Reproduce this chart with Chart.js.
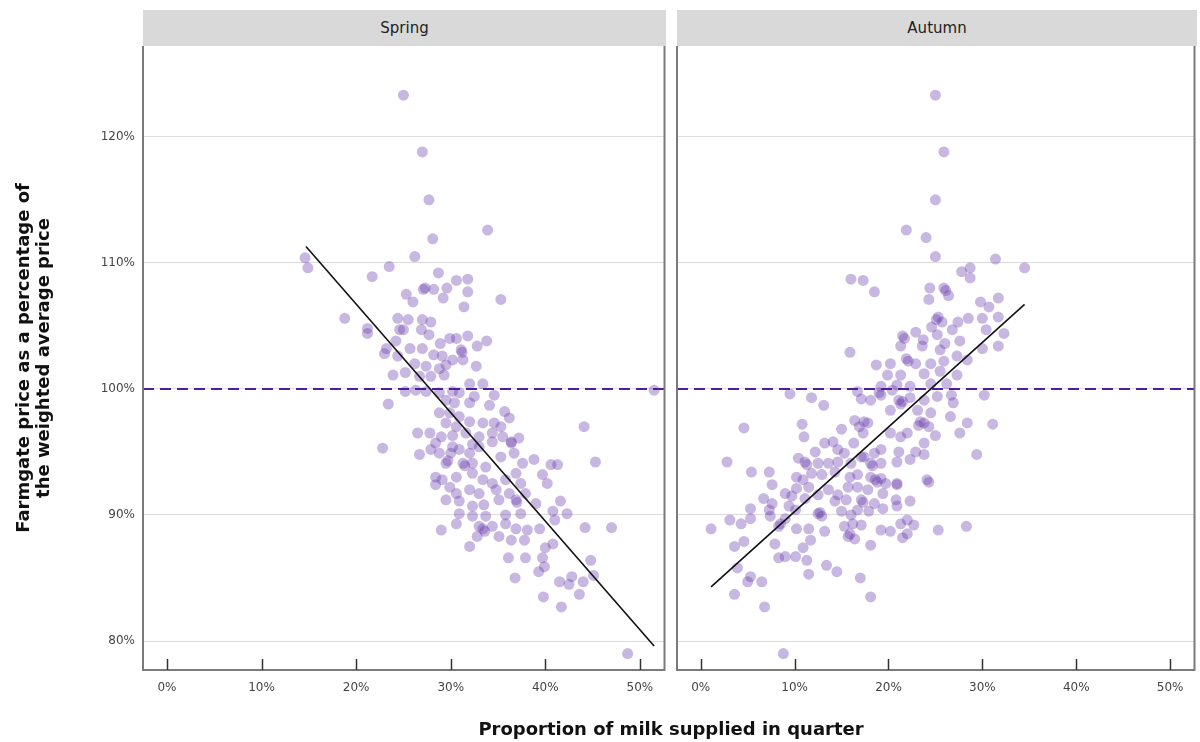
<!DOCTYPE html>
<html>
<head>
<meta charset="utf-8">
<script src="https://cdn.jsdelivr.net/npm/chart.js@4"></script>
<style>
  body { margin: 0; background: #fff; font-family: "DejaVu Sans", sans-serif; }
  #page { position: relative; width: 1200px; height: 742px; overflow: hidden; }
  .wrap { position: absolute; top: 0; height: 742px; }
  .strip { position: absolute; top: 10px; height: 36px; background: #d9d9d9; color: #222;
           font-size: 15px; line-height: 36px; text-align: center; z-index: 2; }
  #ytitle { position: absolute; left: 33px; top: 358px; width: 460px; margin-left: -230px;
            transform: translate(0, -50%) rotate(-90deg); text-align: center;
            font-weight: bold; font-size: 18px; line-height: 20px; color: #111; }
  #xtitle { position: absolute; left: 0; width: 1342px; top: 718px; text-align: center;
            font-weight: bold; font-size: 18px; color: #111; }
</style>
</head>
<body>
<div id="page">
  <div class="wrap" style="left:0;width:670px"><canvas id="spring" width="670" height="742"></canvas></div>
  <div class="wrap" style="left:670px;width:530px"><canvas id="autumn" width="530" height="742"></canvas></div>
  <div class="strip" style="left:143px;width:523px">Spring</div>
  <div class="strip" style="left:677px;width:520px">Autumn</div>
  <div id="ytitle">Farmgate price as a percentage of<br>the weighted average price</div>
  <div id="xtitle">Proportion of milk supplied in quarter</div>
</div>
<script>
// Ticks (percent)
const xTicks = [0, 10, 20, 30, 40, 50];
const yTicks = [80, 90, 100, 110, 120];
const refLevel = 100;

// Spring: share of milk supplied (%) vs farmgate price index (%)
const springX = [25.0, 27.0, 27.7, 28.1, 33.9, 26.2, 14.6, 14.9, 23.5, 21.7, 28.7, 30.6, 31.8, 27.1, 27.3, 28.2, 29.6, 31.8, 25.3, 26.0,
  29.2, 31.4, 35.3, 18.8, 21.2, 21.2, 24.4, 25.5, 27.0, 27.9, 24.6, 25.0, 26.9, 27.7, 29.9, 30.6, 31.8, 33.8, 32.8, 28.9,
  31.1, 31.2, 23.2, 23.0, 24.2, 25.7, 27.0, 28.2, 29.1, 30.2, 31.3, 24.4, 26.2, 27.4, 28.8, 29.5, 32.7, 23.9, 25.2, 26.7,
  27.9, 29.3, 32.0, 33.4, 25.2, 26.3, 27.4, 28.8, 30.2, 30.9, 32.5, 34.6, 23.4, 29.5, 30.4, 32.0, 34.1, 35.7, 28.8, 29.9,
  30.9, 36.2, 29.5, 30.6, 32.0, 33.4, 34.6, 35.3, 26.5, 27.8, 29.0, 30.2, 31.6, 33.0, 34.4, 37.2, 36.4, 35.5, 22.8, 28.4,
  30.2, 32.3, 26.7, 27.9, 28.8, 30.0, 30.9, 32.0, 33.0, 34.4, 36.4, 29.5, 29.7, 31.3, 31.5, 32.3, 33.7, 35.3, 36.7, 37.6,
  38.8, 40.6, 41.3, 28.4, 29.1, 30.6, 32.3, 33.4, 34.4, 35.8, 36.9, 39.7, 40.2, 28.4, 29.9, 30.6, 32.0, 33.0, 34.8, 36.2,
  37.4, 37.9, 29.5, 30.9, 32.3, 33.5, 35.1, 36.9, 37.0, 39.0, 41.6, 40.8, 42.3, 30.9, 32.3, 33.7, 35.8, 37.4, 30.6, 33.0,
  34.4, 35.8, 36.9, 38.1, 39.4, 41.0, 29.0, 33.4, 33.6, 32.8, 35.1, 36.4, 37.8, 32.0, 40.0, 40.8, 36.1, 37.9, 39.7, 39.9,
  39.3, 36.8, 41.5, 42.8, 43.6, 39.8, 41.7, 44.1, 45.3, 47.0, 51.5, 48.7, 44.2, 44.8, 45.1, 44.0, 42.5];
const springY = [123.3, 118.8, 115.0, 111.9, 112.6, 110.5, 110.4, 109.6, 109.7, 108.9, 109.2, 108.6, 108.7, 107.9, 108.0, 107.9, 108.0, 107.7, 107.5, 106.9,
  107.2, 106.5, 107.1, 105.6, 104.8, 104.4, 105.6, 105.5, 105.5, 105.3, 104.7, 104.7, 104.7, 104.3, 104.0, 104.0, 104.2, 103.8, 103.4, 103.6,
  103.1, 102.9, 103.2, 102.8, 103.8, 103.2, 103.2, 102.7, 102.6, 102.3, 102.3, 102.6, 102.0, 101.8, 101.6, 101.9, 101.8, 101.1, 101.3, 101.0,
  101.0, 101.1, 100.4, 100.4, 99.8, 99.9, 99.8, 99.7, 99.8, 99.7, 99.4, 99.5, 98.8, 99.1, 98.9, 98.9, 98.7, 98.2, 98.1, 98.1,
  97.8, 97.7, 97.3, 97.0, 97.4, 97.3, 97.3, 97.0, 96.5, 96.5, 96.2, 96.3, 96.5, 96.2, 96.5, 96.1, 95.8, 96.2, 95.3, 95.7,
  95.4, 95.6, 94.8, 95.2, 94.9, 94.9, 95.2, 94.9, 95.4, 95.8, 95.7, 94.1, 94.3, 94.1, 93.9, 94.1, 93.8, 94.6, 94.9, 94.1,
  94.4, 94.0, 94.0, 93.0, 92.8, 93.0, 93.3, 92.8, 92.5, 92.8, 93.3, 93.2, 92.5, 92.4, 92.2, 91.7, 92.0, 91.7, 92.0, 91.7,
  92.5, 91.7, 91.2, 91.1, 90.7, 90.8, 91.2, 91.2, 91.0, 90.9, 91.1, 90.3, 90.1, 90.1, 89.9, 89.9, 90.0, 90.1, 89.3, 89.1,
  89.1, 89.3, 88.9, 88.8, 88.9, 89.6, 88.8, 88.9, 88.7, 88.3, 88.3, 88.0, 88.0, 87.5, 87.4, 87.7, 86.6, 86.6, 86.6, 85.9,
  85.5, 85.0, 84.7, 85.1, 83.7, 83.5, 82.7, 97.0, 94.2, 89.0, 99.9, 79.0, 89.0, 86.4, 85.2, 84.7, 84.5];

// Autumn
const autumnX = [25.0, 25.9, 25.0, 21.9, 24.0, 25.0, 31.4, 34.5, 27.8, 28.7, 28.7, 16.0, 17.3, 18.5, 24.4, 25.9, 26.1, 26.4, 24.3, 29.8,
  30.7, 31.7, 25.1, 25.3, 25.7, 27.4, 28.5, 30.0, 31.7, 24.6, 26.8, 30.4, 32.3, 21.5, 21.7, 22.9, 23.7, 25.2, 26.0, 27.6,
  21.3, 23.6, 25.5, 30.0, 31.7, 15.9, 21.9, 22.1, 22.9, 24.5, 25.9, 27.3, 28.4, 18.7, 20.2, 19.9, 21.3, 23.8, 25.5, 27.3,
  19.2, 20.9, 22.3, 24.5, 26.2, 19.0, 19.2, 20.4, 9.5, 11.8, 13.1, 16.7, 17.1, 21.1, 22.3, 23.8, 25.2, 26.7, 26.9, 30.2,
  18.1, 20.2, 21.5, 21.3, 23.1, 24.5, 26.6, 4.6, 10.8, 15.0, 16.4, 17.4, 23.4, 23.2, 24.3, 28.4, 31.1, 11.0, 16.9, 17.8,
  17.3, 20.2, 21.3, 22.0, 23.8, 25.0, 27.6, 23.8, 13.2, 14.1, 16.3, 12.2, 14.6, 15.3, 17.1, 18.5, 19.2, 21.1, 22.9, 23.8,
  10.4, 11.1, 11.3, 12.5, 13.6, 14.6, 16.0, 17.4, 18.1, 18.3, 19.2, 20.9, 22.3, 2.8, 29.4, 5.4, 7.3, 10.2, 10.9, 11.8,
  12.9, 14.3, 15.9, 16.7, 18.1, 18.8, 18.6, 19.2, 19.7, 20.9, 24.1, 24.3, 7.6, 10.2, 11.5, 12.5, 13.6, 14.6, 15.7, 16.7,
  17.8, 19.4, 20.9, 6.7, 7.6, 9.0, 9.7, 11.1, 14.3, 15.5, 17.1, 17.3, 18.5, 20.8, 22.3, 5.3, 7.3, 9.4, 10.1, 12.5,
  12.7, 12.9, 15.0, 16.0, 16.7, 17.9, 19.4, 20.9, 3.1, 4.3, 5.3, 7.4, 8.3, 8.5, 9.0, 10.2, 11.5, 13.2, 15.3, 16.2,
  17.1, 1.1, 19.2, 20.2, 21.3, 22.0, 22.7, 25.3, 28.3, 15.7, 15.9, 16.4, 18.1, 11.7, 10.9, 7.9, 22.0, 21.5, 3.6, 4.6,
  8.3, 9.0, 10.1, 11.3, 13.4, 14.5, 11.5, 17.0, 18.1, 3.9, 5.3, 5.0, 6.5, 3.6, 6.8, 8.8];
const autumnY = [123.3, 118.8, 115.0, 112.6, 112.0, 110.5, 110.3, 109.6, 109.3, 109.6, 108.8, 108.7, 108.6, 107.7, 108.0, 108.0, 107.8, 107.4, 107.1, 106.9,
  106.5, 107.2, 105.5, 105.7, 105.3, 105.3, 105.6, 105.6, 105.7, 104.9, 104.7, 104.7, 104.4, 104.2, 104.0, 104.5, 103.9, 104.3, 103.6, 103.8,
  103.4, 103.4, 103.1, 103.2, 103.4, 102.9, 102.4, 102.2, 102.0, 102.0, 102.2, 102.6, 102.3, 101.9, 102.0, 101.1, 101.1, 101.2, 101.4, 101.1,
  100.2, 100.3, 100.2, 100.4, 100.4, 99.7, 99.5, 99.9, 99.6, 99.3, 98.7, 99.8, 99.2, 99.1, 99.3, 99.1, 99.4, 99.5, 98.9, 99.5,
  99.1, 98.3, 99.0, 98.8, 98.3, 98.1, 97.8, 96.9, 97.2, 96.8, 97.5, 97.4, 97.4, 97.1, 97.0, 97.3, 97.2, 96.2, 97.0, 97.3,
  96.5, 96.5, 96.2, 96.5, 97.3, 96.3, 96.5, 95.7, 95.7, 95.8, 95.7, 95.0, 95.2, 94.9, 94.6, 94.9, 95.2, 95.0, 95.0, 94.8,
  94.5, 94.2, 94.0, 94.1, 94.1, 94.2, 94.1, 94.6, 94.1, 93.9, 94.1, 94.2, 94.4, 94.2, 94.8, 93.4, 93.4, 93.0, 92.8, 93.3,
  93.2, 93.4, 93.0, 93.2, 93.0, 92.6, 92.8, 92.9, 92.5, 92.5, 92.8, 92.6, 92.4, 92.1, 92.2, 91.6, 92.0, 91.6, 92.2, 92.2,
  92.0, 91.7, 92.4, 91.3, 90.9, 91.7, 91.5, 91.3, 91.1, 91.2, 91.2, 91.0, 90.9, 91.2, 91.1, 90.5, 90.4, 90.7, 90.4, 90.1,
  90.2, 89.9, 90.3, 90.0, 90.4, 90.3, 90.5, 90.7, 89.6, 89.3, 89.7, 89.9, 89.1, 89.3, 89.7, 88.9, 88.9, 88.7, 89.1, 89.3,
  89.2, 88.9, 88.8, 88.7, 89.3, 89.6, 89.2, 88.8, 89.1, 88.3, 88.5, 88.1, 87.6, 88.0, 87.4, 87.7, 88.5, 88.2, 87.5, 87.9,
  86.6, 86.7, 86.7, 86.4, 86.0, 85.5, 85.3, 85.0, 83.5, 85.8, 85.1, 84.7, 84.7, 83.7, 82.7, 79.0];

// Fitted trend lines (end points)
const springFitX = [14.7, 51.5];
const springFitY = [111.3, 79.6];
const autumnFitX = [1.1, 34.5];
const autumnFitY = [84.3, 106.7];

const X_MIN = -2.53, X_MAX = 52.6;
const Y_MIN = 77.7, Y_MAX = 127.2;

const pts = (xs, ys) => xs.map((x, i) => ({ x: x, y: ys[i] }));

// panel frame (left, right, bottom) + inward x ticks
const panelFrame = {
  id: 'panelFrame',
  afterDraw(chart) {
    const { ctx, chartArea: a } = chart;
    const xs = chart.scales.x;
    ctx.save();
    ctx.strokeStyle = '#7a7a7a';
    ctx.lineWidth = 2;
    ctx.beginPath();
    ctx.moveTo(a.left, a.top);
    ctx.lineTo(a.left, a.bottom);
    ctx.lineTo(a.right, a.bottom);
    ctx.lineTo(a.right, a.top);
    ctx.stroke();
    ctx.strokeStyle = '#333';
    ctx.lineWidth = 1.5;
    xs.ticks.forEach(t => {
      const px = Math.round(xs.getPixelForValue(t.value)) + 0.5;
      ctx.beginPath();
      ctx.moveTo(px, a.bottom);
      ctx.lineTo(px, a.bottom - 11);
      ctx.stroke();
    });
    ctx.restore();
  }
};

const tickFont = { size: 12, family: '"DejaVu Sans"' };

function makeChart(id, xs, ys, fitX, fitY, showY, pad) {
  const ctx = document.getElementById(id).getContext('2d');
  return new Chart(ctx, {
    type: 'scatter',
    data: {
      datasets: [
        {
          type: 'line',
          data: [{ x: X_MIN, y: refLevel }, { x: X_MAX, y: refLevel }],
          borderColor: '#4f1d9e',
          borderWidth: 2,
          borderDash: [11, 6],
          pointRadius: 0,
          order: 0
        },
        {
          type: 'line',
          data: pts(fitX, fitY),
          borderColor: '#111',
          borderWidth: 1.6,
          pointRadius: 0,
          order: 1
        },
        {
          data: pts(xs, ys),
          backgroundColor: 'rgba(98,52,168,0.35)',
          borderWidth: 0,
          pointRadius: 5.5,
          pointHoverRadius: 5.5,
          order: 2
        }
      ]
    },
    options: {
      responsive: false,
      animation: false,
      layout: { padding: pad },
      plugins: { legend: { display: false }, tooltip: { enabled: false } },
      scales: {
        x: {
          type: 'linear',
          min: X_MIN,
          max: X_MAX,
          afterBuildTicks: s => { s.ticks = xTicks.map(v => ({ value: v })); },
          afterFit: s => { s.height = 72; },
          grid: { display: false },
          border: { display: false },
          ticks: {
            callback: v => v + '%',
            color: '#444',
            font: tickFont,
            padding: 3,
            maxRotation: 0,
            autoSkip: false
          }
        },
        y: {
          min: Y_MIN,
          max: Y_MAX,
          afterBuildTicks: s => { s.ticks = yTicks.map(v => ({ value: v })); },
          afterFit: s => { s.width = showY ? 143 : 0; },
          grid: { color: '#dcdcdc', lineWidth: 1, drawTicks: false },
          border: { display: false },
          ticks: {
            display: showY,
            callback: v => v + '%',
            color: '#444',
            font: tickFont,
            padding: 8
          }
        }
      }
    },
    plugins: [panelFrame]
  });
}

makeChart('spring', springX, springY, springFitX, springFitY, true, { top: 46, right: 4, left: 0, bottom: 0 });
makeChart('autumn', autumnX, autumnY, autumnFitX, autumnFitY, false, { top: 46, right: 3, left: 7, bottom: 0 });
</script>
</body>
</html>
